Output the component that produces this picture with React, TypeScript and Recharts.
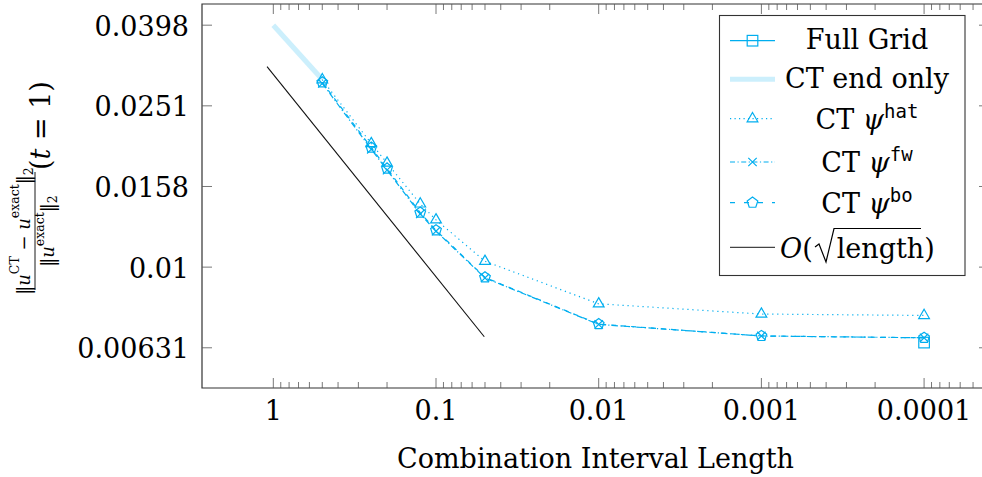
import {
  LineChart, Line, XAxis, YAxis, ReferenceArea, Legend,
} from 'recharts'

const FONT       = '"DejaVu Serif", "Liberation Serif", serif'
const MONO       = '"DejaVu Sans Mono", "Liberation Mono", monospace'
const CYAN       = '#00AEEF'
const CYAN_LIGHT = '#CCEFFC'
const FRAME      = '#333333'
const TICK_INK   = '#555555'

const PLOT_TOP   = 4
const PLOT_RIGHT = 989
const MAJOR_LEN  = 10
const MINOR_LEN  = 6

// combination interval lengths
const X_PTS = [0.5, 0.25, 0.2, 0.125, 0.1, 0.05, 0.01, 0.001, 0.0001]
const HAT   = [0.02916, 0.02025, 0.01812, 0.01435, 0.01310, 0.01034, 0.00811, 0.00765, 0.00759]
const FW    = [0.02855, 0.01960, 0.01740, 0.01355, 0.01228, 0.00940, 0.00721, 0.00675, 0.00668]
const BO    = [0.02871, 0.01978, 0.01755, 0.01365, 0.01234, 0.00943, 0.00722, 0.00675, 0.00668]

const FULL_X = [0.0001]
const FULL   = [0.0065]

const END_X = [1, 0.5]
const END   = [0.0398, 0.0292]

const REF_X = [1.093, 0.0505]
const REF   = [0.03141, 0.00672]

const X_MAJOR       = [1, 0.1, 0.01, 0.001, 0.0001]
const X_TICK_LABELS = ['1', '0.1', '0.01', '0.001', '0.0001']
const X_DECADES     = [0.1, 0.01, 0.001, 0.0001]
const X_MINOR_MULT  = [2, 3, 4, 5, 6, 7, 8, 9]
const X_MINOR_TAIL  = [0.00009, 0.00008, 0.00007, 0.00006, 0.00005]
const X_MINOR = [...X_DECADES.flatMap(d => X_MINOR_MULT.map(m => m * d)), ...X_MINOR_TAIL]

const Y_TICKS       = [0.0398107, 0.0251189, 0.0158489, 0.01, 0.00630957]
const Y_TICK_LABELS = ['0.0398', '0.0251', '0.0158', '0.01', '0.00631']

const X_DOMAIN: [number, number] = [3.99e-5, 2.744]
const Y_DOMAIN: [number, number] = [0.005015, 0.04493]

const pairs = (xs: number[], ys: number[]) => xs.map((x, i) => ({ x, y: ys[i] }))

const hatData  = pairs(X_PTS, HAT)
const fwData   = pairs(X_PTS, FW)
const boData   = pairs(X_PTS, BO)
const fullData = pairs(FULL_X, FULL)
const endData  = pairs(END_X, END)
const refData  = pairs(REF_X, REF)

type Kind = 'square' | 'triangle' | 'cross' | 'pentagon'

function Marker({ kind, cx, cy }: { kind: Kind; cx: number; cy: number }) {
  const st = { fill: 'none', stroke: CYAN, strokeWidth: 1.2 }
  if (kind === 'square') {
    return <rect x={cx - 5.3} y={cy - 5.3} width={10.6} height={10.6} {...st} />
  }
  if (kind === 'triangle') {
    const r = 6.2
    return <polygon points={`${cx},${cy - r} ${cx + r * 0.866},${cy + r / 2} ${cx - r * 0.866},${cy + r / 2}`} {...st} />
  }
  if (kind === 'cross') {
    const h = 4.2
    return <path d={`M${cx - h},${cy - h}L${cx + h},${cy + h}M${cx - h},${cy + h}L${cx + h},${cy - h}`} {...st} />
  }
  const r = 5.6
  const pts = [0, 1, 2, 3, 4].map(k => {
    const a = -Math.PI / 2 + (k * 2 * Math.PI) / 5
    return `${cx + r * Math.cos(a)},${cy + r * Math.sin(a)}`
  }).join(' ')
  return <polygon points={pts} {...st} />
}

const dotOf = (kind: Kind) => (p: any) => (
  <Marker key={`${kind}-${p.index}`} kind={kind} cx={p.cx} cy={p.cy} />
)

function XTick(props: any) {
  const { x, y, payload } = props
  const idx = X_MAJOR.findIndex(v => Math.abs(v - payload.value) < v * 1e-6)
  const len = idx >= 0 ? MAJOR_LEN : MINOR_LEN
  return (
    <g>
      <line x1={x} x2={x} y1={y} y2={y - len} stroke={TICK_INK} strokeWidth={0.8} />
      <line x1={x} x2={x} y1={PLOT_TOP} y2={PLOT_TOP + len} stroke={TICK_INK} strokeWidth={0.8} />
      {idx >= 0 && (
        <text x={x} y={y + 31.5} textAnchor="middle" fontFamily={FONT} fontSize={27} fill="#000">
          {X_TICK_LABELS[idx]}
        </text>
      )}
    </g>
  )
}

function YTick(props: any) {
  const { x, y, payload } = props
  const idx = Y_TICKS.findIndex(v => Math.abs(v - payload.value) < v * 1e-6)
  return (
    <g>
      <line x1={x} x2={x + MAJOR_LEN} y1={y} y2={y} stroke={TICK_INK} strokeWidth={0.8} />
      <line x1={PLOT_RIGHT - MAJOR_LEN} x2={PLOT_RIGHT} y1={y} y2={y} stroke={TICK_INK} strokeWidth={0.8} />
      <text x={x - 13} y={y} dy="0.385em" textAnchor="end" fontFamily={FONT} fontSize={27} fill="#000">
        {Y_TICK_LABELS[idx]}
      </text>
    </g>
  )
}

// rotated fraction label: ||u^CT - u^exact||_2 / ||u^exact||_2 (t = 1)
function YLabel() {
  return (
    <g transform="rotate(-90)" fontFamily={FONT} fill="#000">
      <text x={-231} y={29.5} textAnchor="middle" fontSize={18}>
        ‖<tspan fontStyle="italic">u</tspan>
        <tspan fontSize={12.5} dy={-11}>CT</tspan>
        <tspan dy={11}>{' − '}</tspan>
        <tspan fontStyle="italic">u</tspan>
        <tspan fontSize={12.5} dy={-11}>exact</tspan>
        <tspan dy={11}>‖</tspan>
        <tspan fontSize={12.5} dy={3}>2</tspan>
      </text>
      <line x1={-290} x2={-172} y1={35} y2={35} stroke="#000" strokeWidth={0.9} />
      <text x={-231} y={54} textAnchor="middle" fontSize={18}>
        ‖<tspan fontStyle="italic">u</tspan>
        <tspan fontSize={12.5} dy={-10}>exact</tspan>
        <tspan dy={10}>‖</tspan>
        <tspan fontSize={12.5} dy={3}>2</tspan>
      </text>
      <text x={-170} y={49.5} fontSize={27}>
        (<tspan fontStyle="italic">t</tspan>{' = 1)'}
      </text>
    </g>
  )
}

function LegendBox() {
  const a = 730
  const b = 775
  const m = (a + b) / 2
  const tx = 867
  const txt = { fontFamily: FONT, fontSize: 27, fill: '#000', textAnchor: 'middle' as const }
  const sup = { fontFamily: MONO, fontSize: 19 }
  return (
    <svg width={992} height={477} style={{ position: 'absolute', left: 0, top: 0, overflow: 'visible' }}>
      <rect x={719.5} y={15.5} width={245.5} height={260} fill="#fff" stroke={FRAME} strokeWidth={1.1} />

      <line x1={a} x2={b} y1={40.7} y2={40.7} stroke={CYAN} strokeWidth={1.2} />
      <Marker kind="square" cx={m} cy={40.7} />
      <text x={tx} y={49.3} {...txt}>Full Grid</text>

      <line x1={a} x2={b} y1={79.3} y2={79.3} stroke={CYAN_LIGHT} strokeWidth={5} />
      <text x={tx} y={88.3} {...txt}>CT end only</text>

      <line x1={a} x2={b} y1={118.7} y2={118.7} stroke={CYAN} strokeWidth={1.2} strokeDasharray="1.2 3.3" />
      <Marker kind="triangle" cx={m} cy={118.7} />
      <text x={tx} y={129.3} {...txt}>
        CT <tspan fontStyle="italic">ψ</tspan><tspan {...sup} dy={-11}>hat</tspan>
      </text>

      <line x1={a} x2={b} y1={162} y2={162} stroke={CYAN} strokeWidth={1.2} strokeDasharray="5 2.5 1.2 2.5" />
      <Marker kind="cross" cx={m} cy={162} />
      <text x={tx} y={171.7} {...txt}>
        CT <tspan fontStyle="italic">ψ</tspan><tspan {...sup} dy={-11}>fw</tspan>
      </text>

      <line x1={a} x2={b} y1={202.7} y2={202.7} stroke={CYAN} strokeWidth={1.2} strokeDasharray="5 9" />
      <Marker kind="pentagon" cx={m} cy={202.7} />
      <text x={tx} y={213.3} {...txt}>
        CT <tspan fontStyle="italic">ψ</tspan><tspan {...sup} dy={-11}>bo</tspan>
      </text>

      <line x1={a} x2={b} y1={247.3} y2={247.3} stroke="#444" strokeWidth={1.3} />
      <path d="M815,247 L819,244 L826,262 L834,228.5 L921,228.5" fill="none" stroke="#000" strokeWidth={1.2} />
      <text x={780} y={258.3} fontFamily={FONT} fontSize={27} fill="#000">
        <tspan fontStyle="italic">O</tspan>(<tspan dx={24}>length</tspan>)
      </text>
    </svg>
  )
}

export default function App() {
  return (
    <div style={{ position: 'absolute', left: 0, top: 0, width: 982, height: 477, overflow: 'hidden', background: '#fff' }}>
      <LineChart width={992} height={477} margin={{ top: PLOT_TOP, right: 3, bottom: 0, left: 122 }}>
        <XAxis
          dataKey="x"
          type="number"
          scale="log"
          domain={X_DOMAIN}
          allowDataOverflow
          reversed
          ticks={[...X_MAJOR, ...X_MINOR]}
          interval={0}
          tick={(p: any) => <XTick {...p} />}
          tickLine={false}
          axisLine={false}
          tickSize={0}
          tickMargin={0}
          height={89}
          label={(p: any) => {
            const vb = p.viewBox || { x: 202, y: 388, width: 787 }
            return (
              <text x={vb.x + vb.width / 2} y={vb.y + 79.5} textAnchor="middle" fontFamily={FONT} fontSize={27} fill="#000">
                Combination Interval Length
              </text>
            )
          }}
        />
        <YAxis
          dataKey="y"
          type="number"
          scale="log"
          domain={Y_DOMAIN}
          allowDataOverflow
          ticks={Y_TICKS}
          interval={0}
          tick={(p: any) => <YTick {...p} />}
          tickLine={false}
          axisLine={false}
          tickSize={0}
          tickMargin={0}
          width={80}
          label={() => <YLabel />}
        />

        <Line data={fullData} dataKey="y" name="Full Grid" type="linear" stroke={CYAN} strokeWidth={1.2}
          dot={dotOf('square')} activeDot={false} isAnimationActive={false} />
        <Line data={endData} dataKey="y" name="CT end only" type="linear" stroke={CYAN_LIGHT} strokeWidth={5}
          dot={false} activeDot={false} isAnimationActive={false} />
        <Line data={hatData} dataKey="y" name="CT hat" type="linear" stroke={CYAN} strokeWidth={1.2} strokeDasharray="1.2 3.8"
          dot={dotOf('triangle')} activeDot={false} isAnimationActive={false} />
        <Line data={fwData} dataKey="y" name="CT fw" type="linear" stroke={CYAN} strokeWidth={1.2} strokeDasharray="6 2.5 1.2 2.5"
          dot={dotOf('cross')} activeDot={false} isAnimationActive={false} />
        <Line data={boData} dataKey="y" name="CT bo" type="linear" stroke={CYAN} strokeWidth={1.2} strokeDasharray="5 5"
          dot={dotOf('pentagon')} activeDot={false} isAnimationActive={false} />
        <Line data={refData} dataKey="y" name="O(sqrt(length))" type="linear" stroke="#111" strokeWidth={1.1}
          dot={false} activeDot={false} isAnimationActive={false} />

        <ReferenceArea x1={X_DOMAIN[0]} x2={X_DOMAIN[1]} y1={Y_DOMAIN[0]} y2={Y_DOMAIN[1]}
          fill="none" fillOpacity={0} stroke={FRAME} strokeWidth={1.2} ifOverflow="visible" />

        <Legend
          content={() => <LegendBox />}
          layout="vertical"
          align="center"
          verticalAlign="middle"
          wrapperStyle={{ left: 0, top: 0, width: 982, height: 477, pointerEvents: 'none' }}
        />
      </LineChart>
    </div>
  )
}
